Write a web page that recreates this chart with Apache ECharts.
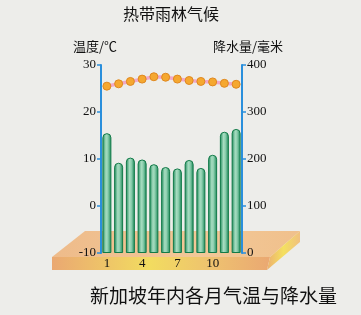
<!DOCTYPE html>
<html><head><meta charset="utf-8">
<script src="https://cdn.jsdelivr.net/npm/echarts@6/dist/echarts.min.js"></script>
<style>html,body{margin:0;padding:0;background:#ededea;}#c{width:361px;height:315px;}</style>
</head><body><div id="c"></div>
<script>
const months = ['1','2','3','4','5','6','7','8','9','10','11','12'];
const temperature = [25.5, 26.0, 26.5, 27.0, 27.5, 27.4, 27.0, 26.7, 26.5, 26.4, 26.1, 25.9];
const precipitation = [255, 192, 203, 199, 189, 183, 180, 198, 181, 209, 258, 264];
const tempTicks = [-10, 0, 10, 20, 30];
const rainTicks = [0, 100, 200, 300, 400];

const serif = '"Liberation Serif", "DejaVu Serif", serif';
const cjk = '"Noto Sans CJK SC", sans-serif';
const axisBlue = '#2a8fdc';
const chart = echarts.init(document.getElementById('c'));
chart.setOption({
  backgroundColor: '#ededea',
  animation: false,
  graphic: [
    { type: 'polygon', z: -10, shape: { points: [[85,231],[300,231],[270,257],[52,257]] },
      style: { fill: new echarts.graphic.LinearGradient(0,0,1,0,[{offset:0,color:'#eebb8a'},{offset:0.6,color:'#f2c898'},{offset:1,color:'#f0c08c'}]) } },
    { type: 'polygon', z: -10, shape: { points: [[52,257],[270,257],[267,270],[52,270]] },
      style: { fill: new echarts.graphic.LinearGradient(0,0,1,0,[{offset:0,color:'#eaa872'},{offset:0.45,color:'#f2dc60'},{offset:0.75,color:'#eec070'},{offset:1,color:'#eaa872'}]) } },
    { type: 'polygon', z: -10, shape: { points: [[270,257],[300,231],[300,242],[267,270]] },
      style: { fill: new echarts.graphic.LinearGradient(0,0,1,0,[{offset:0,color:'#ecb070'},{offset:0.5,color:'#f4e060'},{offset:1,color:'#f0c080'}]) } },
    { type: 'text', left: 123, top: 6, style: { text: '热带雨林气候', font: '16px ' + cjk, fill: '#111' } },
    { type: 'text', left: 73, top: 40, style: { text: '温度/℃', font: '13px ' + cjk, fill: '#111' } },
    { type: 'text', left: 213, top: 40, style: { text: '降水量/毫米', font: '13px ' + cjk, fill: '#111' } },
    { type: 'text', left: 90, top: 286, style: { text: '新加坡年内各月气温与降水量', font: '19px ' + cjk, fill: '#111' } }
  ],
  grid: { left: 101, right: 119, top: 65, bottom: 62 },
  xAxis: {
    type: 'category', data: months,
    axisLine: { show: false }, axisTick: { show: false },
    axisLabel: { interval: 2, color: '#111', fontFamily: serif, fontSize: 13, margin: 4 }
  },
  yAxis: [
    { type: 'value', min: tempTicks[0], max: tempTicks[tempTicks.length-1], interval: 10,
      axisLine: { show: true, lineStyle: { color: axisBlue, width: 2 } },
      axisTick: { show: true, length: 4, lineStyle: { color: axisBlue, width: 1.5 } },
      splitLine: { show: false },
      axisLabel: { color: '#111', fontFamily: serif, fontSize: 13, margin: 5 } },
    { type: 'value', min: rainTicks[0], max: rainTicks[rainTicks.length-1], interval: 100,
      axisLine: { show: true, lineStyle: { color: axisBlue, width: 2 } },
      axisTick: { show: true, length: 4, lineStyle: { color: axisBlue, width: 1.5 } },
      splitLine: { show: false },
      axisLabel: { color: '#111', fontFamily: serif, fontSize: 13, margin: 5 } }
  ],
  series: [
    { type: 'bar', yAxisIndex: 1, data: precipitation, barWidth: 9, z: 2,
      itemStyle: {
        color: new echarts.graphic.LinearGradient(0,0,1,0,[
          {offset:0,color:'#168554'},{offset:0.4,color:'#a6dcc0'},{offset:0.6,color:'#8fd0b0'},{offset:1,color:'#168554'}]),
        borderColor: '#127a48', borderWidth: 1, borderRadius: [4,4,0,0]
      } },
    { type: 'line', yAxisIndex: 0, data: temperature, z: 5, showAllSymbol: true,
      lineStyle: { color: '#f0a8c8', width: 3.5 },
      symbol: 'circle', symbolSize: 8,
      itemStyle: { color: '#f5a830', borderColor: '#e08820', borderWidth: 1 } }
  ]
});
</script></body></html>
